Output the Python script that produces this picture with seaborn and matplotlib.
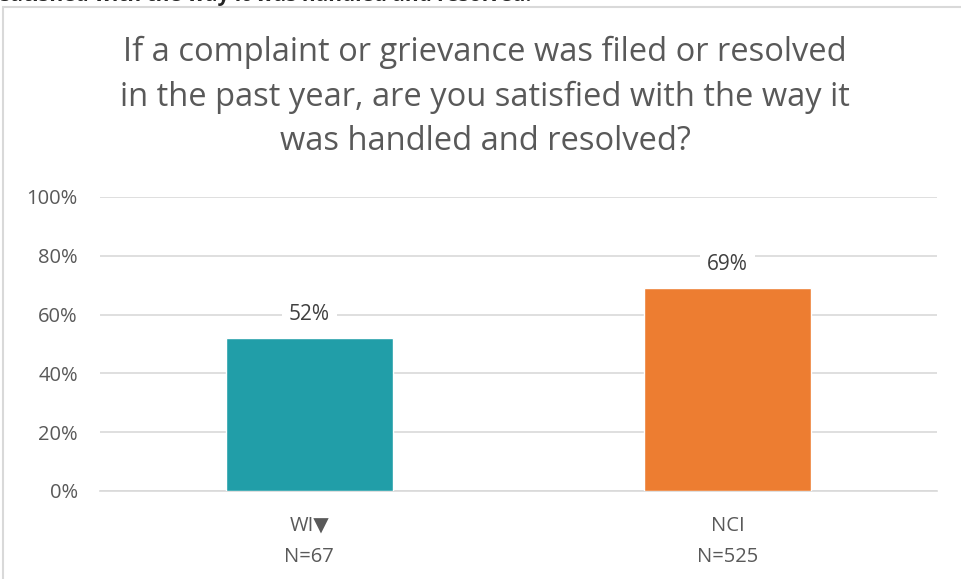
import matplotlib
matplotlib.use("Agg")
import matplotlib.pyplot as plt
import seaborn as sns
import pandas as pd
from matplotlib.patches import Rectangle

groups = ["WI\u25bc\nN=67", "NCI\nN=525"]
satisfied = [52, 69]
bar_colors = ["#219EA8", "#ED7D31"]
y_ticks = [0, 20, 40, 60, 80, 100]
title = ("If a complaint or grievance was filed or resolved\n"
         "in the past year, are you satisfied with the way it\n"
         "was handled and resolved?")
heading = "satisfied with the way it was handled and resolved."

sns.set_theme(style="white")
plt.rcParams["font.family"] = ["Open Sans", "DejaVu Sans"]

df = pd.DataFrame({"group": groups, "pct": satisfied})

fig = plt.figure(figsize=(9.61, 5.79), dpi=100)
ax = fig.add_axes([100 / 961, 1 - 491 / 579, 837 / 961, 294 / 579])

sns.barplot(data=df, x="group", y="pct", hue="group", palette=bar_colors,
            width=0.4, legend=False, ax=ax, saturation=1, zorder=3)

ax.set_ylim(0, 100)
ax.set_xlim(-0.5, 1.5)
ax.set_yticks(y_ticks)
ax.set_yticklabels([f"{t}%" for t in y_ticks], color="#595959", fontsize=14.5)
ax.tick_params(axis="y", length=0, pad=16)
ax.tick_params(axis="x", length=0, pad=18)
for lab in ax.get_xticklabels():
    lab.set_color("#595959")
    lab.set_fontsize(14.5)
    lab.set_linespacing(1.7)
ax.set_xlabel("")
ax.set_ylabel("")
ax.grid(axis="y", color="#D9D9D9", linewidth=1.2, zorder=0)
for side in ["top", "right", "left"]:
    ax.spines[side].set_visible(False)
ax.spines["bottom"].set_color("#D9D9D9")
ax.spines["bottom"].set_linewidth(1.2)

for i, v in enumerate(satisfied):
    ax.text(i, v + 8, f"{v}%", ha="center", va="center", fontsize=15,
            color="#404040", zorder=4,
            bbox=dict(facecolor="white", edgecolor="none", pad=5))

fig.text(485 / 961, 1 - 97 / 579, title, ha="center", va="center",
         fontsize=23.5, color="#595959", linespacing=1.45)

# chart frame
fig.patches.append(Rectangle((3 / 961, -0.01), 1.2, 1 - 7 / 579 + 0.01,
                             transform=fig.transFigure, fill=False,
                             edgecolor="#D9D9D9", linewidth=1.5))

# heading text above the chart frame
fig.text(0.0, 1.0 - 0.5 / 579, heading, ha="left", va="baseline",
         fontsize=15, fontweight="bold", color="#262626")

fig.savefig("out.png", dpi=100)
